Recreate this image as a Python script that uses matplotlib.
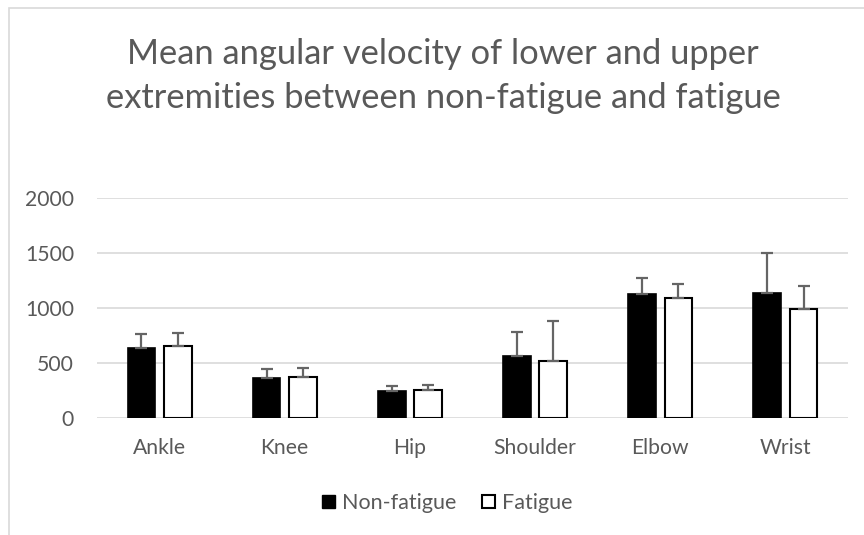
import matplotlib
matplotlib.use("Agg")
import matplotlib.pyplot as plt
import numpy as np
from matplotlib.patches import Rectangle, Patch

categories = ["Ankle", "Knee", "Hip", "Shoulder", "Elbow", "Wrist"]
non_fatigue = [639, 366, 242, 561, 1127, 1133]
non_fatigue_err = [122, 79, 49, 224, 149, 364]
fatigue = [654, 376, 251, 515, 1094, 994]
fatigue_err = [116, 82, 52, 367, 127, 203]
yticks = [0, 500, 1000, 1500, 2000]
title_lines = ["Mean angular velocity of lower and upper",
               "extremities between non-fatigue and fatigue"]
legend_labels = ["Non-fatigue", "Fatigue"]

FAM = ['Lato', 'DejaVu Sans']
plt.rcParams['font.family'] = FAM
grey = "#595959"

fig = plt.figure(figsize=(8.64, 5.35), dpi=100)
renderer = fig.canvas.get_renderer()


def fit_size(text, target_px):
    t = fig.text(0, 0, text, fontsize=10)
    w = t.get_window_extent(renderer).width
    t.remove()
    return 10 * target_px / w


title_fs = fit_size(title_lines[1], 674)
tick_fs = fit_size("Ankle", 53)
leg_fs = fit_size("Non-fatigue", 114)

ax = fig.add_axes([97/864, 1 - 418/535, (848 - 97)/864, (418 - 198)/535])

x = np.arange(len(categories))
w = 0.22
off = 0.145
ax.bar(x - off, non_fatigue, w, color="black", edgecolor="black", linewidth=1.2, zorder=3)
ax.bar(x + off, fatigue, w, color="white", edgecolor="black", linewidth=1.5, zorder=3)
ax.errorbar(x - off, non_fatigue, yerr=[np.zeros(len(x)), non_fatigue_err], fmt="none",
            ecolor="#656565", elinewidth=1.6, capsize=4.3, capthick=1.6, zorder=4)
ax.errorbar(x + off, fatigue, yerr=[np.zeros(len(x)), fatigue_err], fmt="none",
            ecolor="#656565", elinewidth=1.6, capsize=4.3, capthick=1.6, zorder=4)

ax.set_xlim(-0.5, len(categories) - 0.5)
ax.set_ylim(0, 2000)
ax.set_yticks(yticks)
ax.set_yticklabels([str(t) for t in yticks])
ax.set_xticks(x)
ax.set_xticklabels(categories)
ax.tick_params(axis="both", length=0, labelsize=tick_fs, labelcolor=grey)
ax.tick_params(axis="y", pad=16.5)
ax.tick_params(axis="x", pad=14.5)
ax.grid(axis="y", color="#d9d9d9", linewidth=1.2, zorder=0)
for s in ax.spines.values():
    s.set_visible(False)

fig.text(443/864, 1 - 64/535, title_lines[0], ha="center", va="baseline",
         fontsize=title_fs, color=grey)
fig.text(443/864, 1 - 108/535, title_lines[1], ha="center", va="baseline",
         fontsize=title_fs, color=grey)

handles = [Patch(facecolor="black", edgecolor="black"),
           Patch(facecolor="white", edgecolor="black", linewidth=1.5)]
fig.legend(handles, legend_labels, loc="center", bbox_to_anchor=(447.5/864, 1 - 503/535),
           ncol=2, frameon=False, fontsize=leg_fs, labelcolor=grey, handlelength=0.6,
           handleheight=0.6, handletextpad=0.33, columnspacing=1.2)

fig.patches.append(Rectangle((9/864, -0.1), 2, 1 - 8/535 + 0.1, transform=fig.transFigure,
                             fill=False, edgecolor="#d9d9d9", linewidth=1.2))

fig.savefig("out.png", dpi=100)
